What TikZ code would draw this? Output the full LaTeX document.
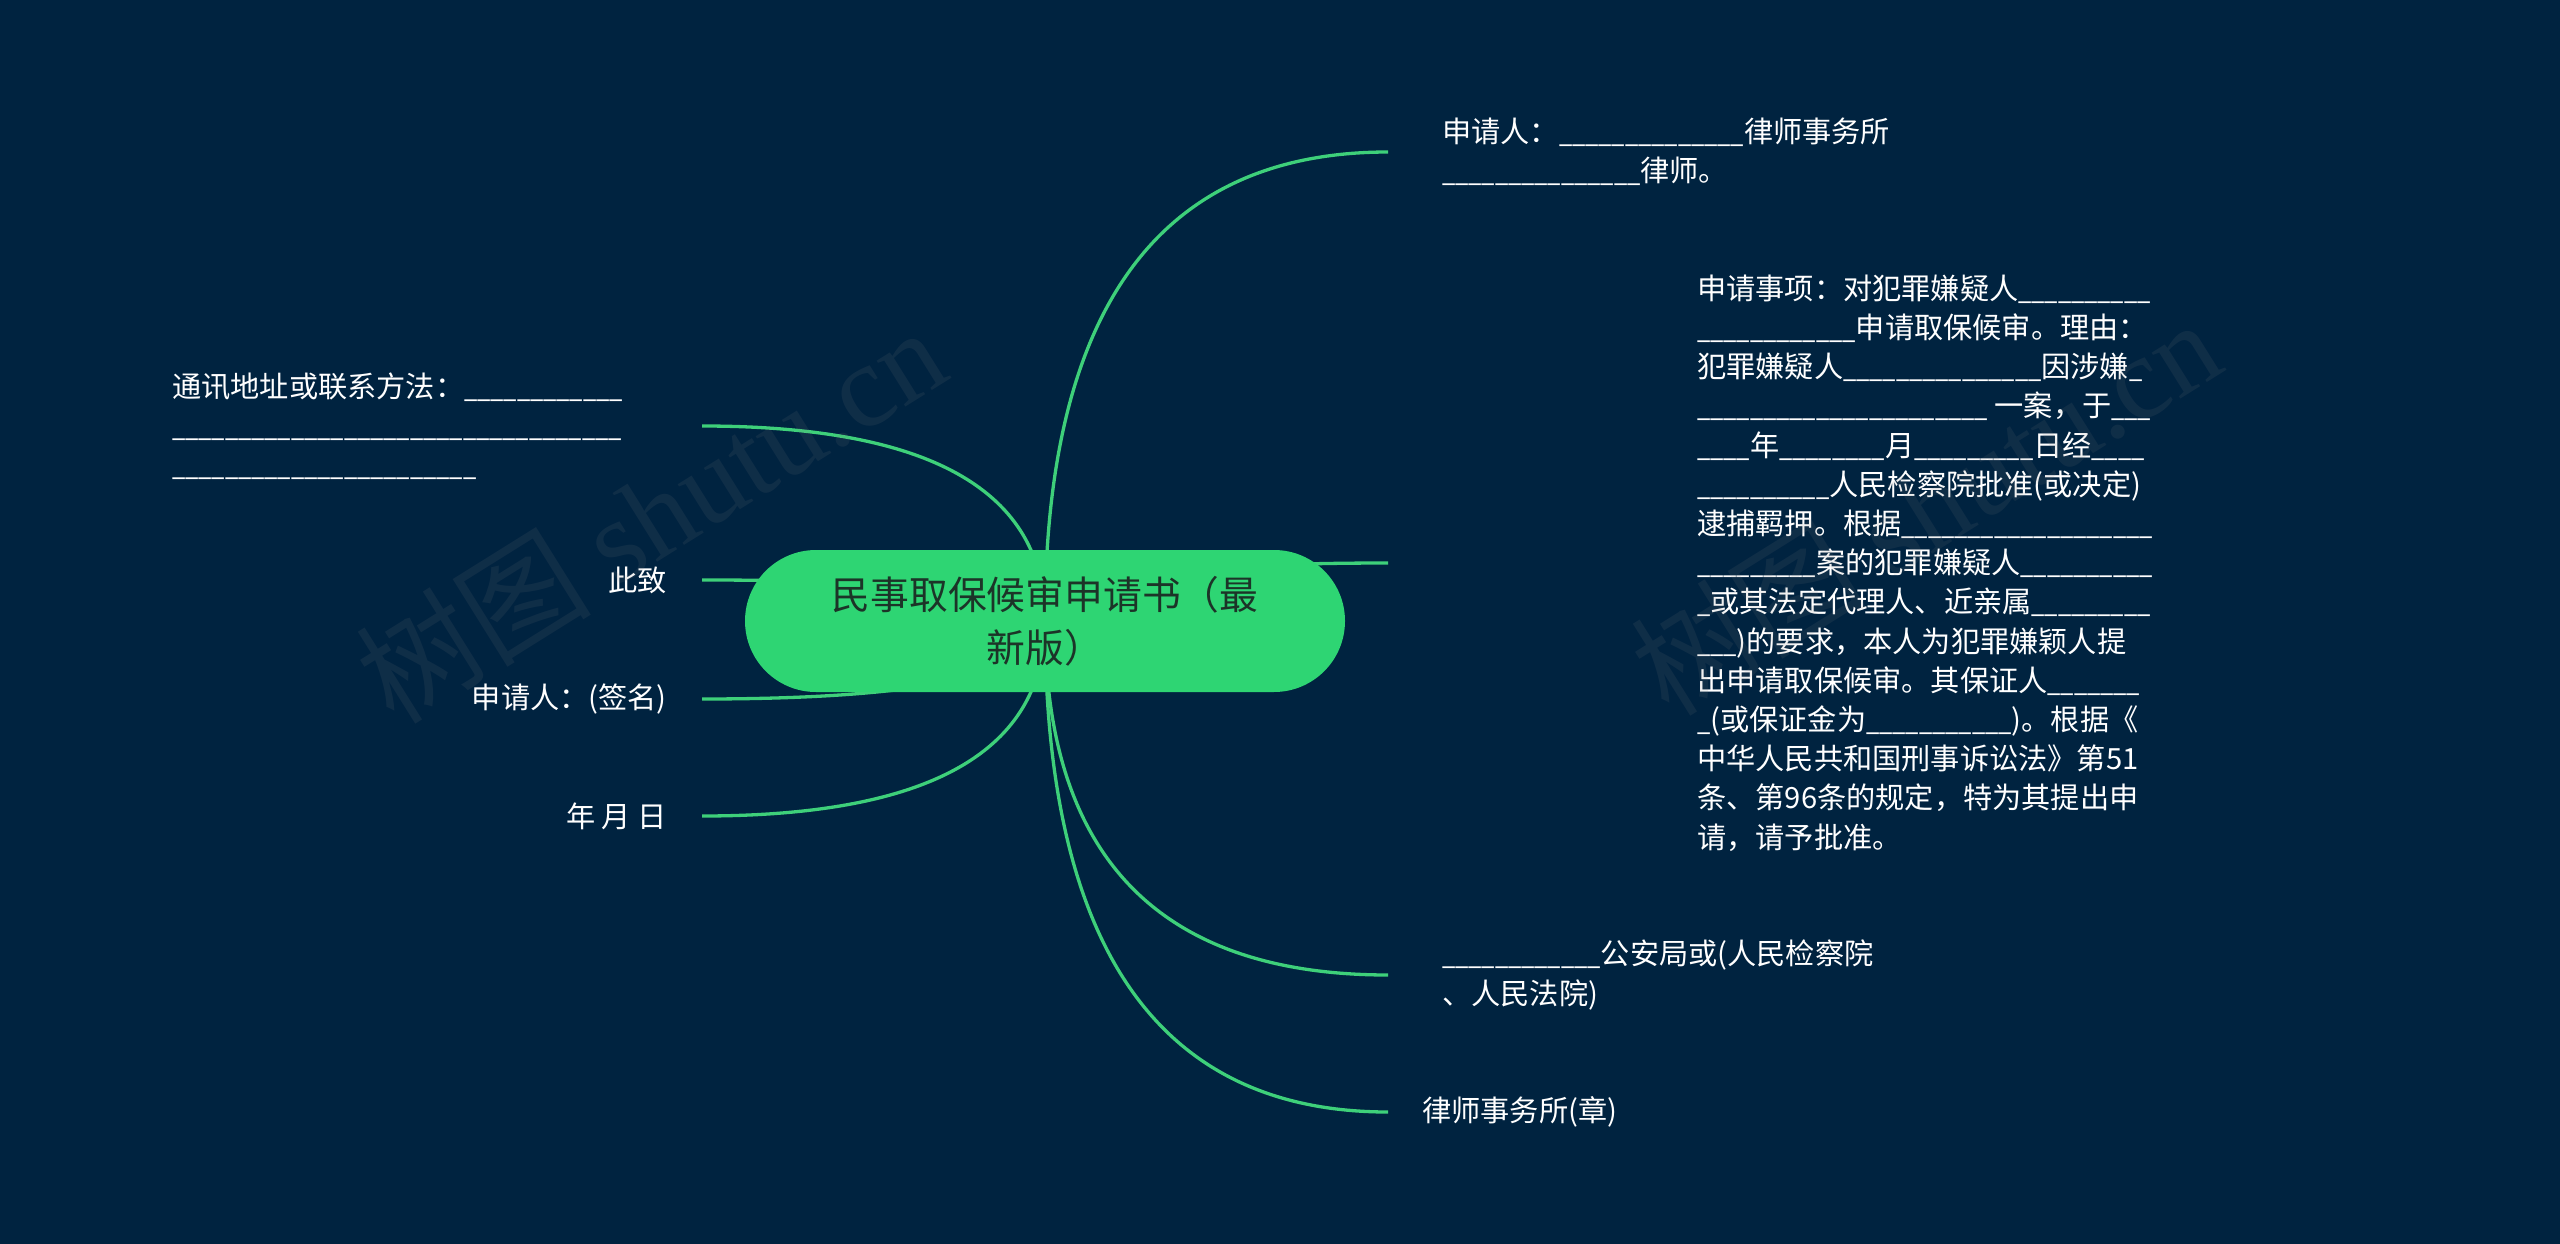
\documentclass[tikz,border=0pt]{standalone}
\usepackage{fontspec}
\usepackage{graphicx}
\setmainfont{Noto Sans CJK SC}
\newfontfamily\markserif{Liberation Serif}
\usetikzlibrary{calc,positioning,backgrounds}
\definecolor{mapbg}{RGB}{0,35,64}
\definecolor{rootgreen}{RGB}{46,213,115}
\definecolor{roottext}{RGB}{28,52,40}
\definecolor{linkgreen}{RGB}{62,208,122}
\newcount\blankcnt
\newcommand{\blanks}[1]{\scalebox{0.81}[1]{\blankcnt=0\relax\loop\ifnum\blankcnt<#1\relax\_\advance\blankcnt by 1\relax\repeat}}

\begin{document}
\begin{tikzpicture}[x=1pt, y=-1pt,
    leaf/.style={text=white, inner sep=0pt, align=left, font=\fontsize{29.2pt}{39.2pt}\selectfont},
    branch/.style={draw=linkgreen, line width=3.3pt, to path={.. controls ($(\tikztostart)!2/3!(\tikztostart |- \tikztotarget)$) and ($(\tikztotarget)!2/3!(\tikztostart |- \tikztotarget)$) .. (\tikztotarget)}},
    watermark/.style={text=gray, opacity=0.12, rotate=32, font=\fontsize{118pt}{118pt}\selectfont}]
    \useasboundingbox (0,0) rectangle (2560,1244);
    % Central topic
    \node[fill=rootgreen, text=roottext, minimum width=600pt, minimum height=142pt, rounded corners=71pt, align=center, font=\fontsize{38.8pt}{53pt}\selectfont] (root) at (1045,621) {民事取保候审申请书（最\\新版）};
    % Free ends of the links
    \coordinate (e1) at (1388,152);
    \coordinate (e2) at (1388,563);
    \coordinate (e3) at (1388,975);
    \coordinate (e4) at (1388,1112);
    \coordinate (e5) at (702,426);
    \coordinate (e6) at (702,580);
    \coordinate (e7) at (702,699);
    \coordinate (e8) at (702,816);
    % Right side
    \node[leaf, right=54pt of e1] (lawyer) {申请人：\blanks{14}律师事务所\\\blanks{15}律师。};
    \node[leaf, right=309pt of e2] (items) {申请事项：对犯罪嫌疑人\blanks{10}\\
        \blanks{12}申请取保候审。理由：\\
        犯罪嫌疑人\blanks{15}因涉嫌\blanks{1}\\
        \blanks{22} 一案，于\blanks{3}\\
        \blanks{4}年\blanks{8}月\blanks{9}日经\blanks{4}\\
        \blanks{10}人民检察院批准(或决定)\\
        逮捕羁押。根据\blanks{19}\\
        \blanks{9}案的犯罪嫌疑人\blanks{10}\\
        \blanks{1}或其法定代理人、近亲属\blanks{9}\\
        \blanks{3})的要求，本人为犯罪嫌颖人提\\
        出申请取保候审。其保证人\blanks{7}\\
        \blanks{1}(或保证金为\blanks{11})。根据《\\
        中华人民共和国刑事诉讼法》第51\\
        条、第96条的规定，特为其提出申\\
        请，请予批准。};
    \node[leaf, right=54pt of e3] (office) {\blanks{12}公安局或(人民检察院\\、人民法院)};
    \node[leaf, right=34pt of e4] (seal) {律师事务所(章)};
    % Left side
    \node[leaf, anchor=west] (addr) at (172,426) {通讯地址或联系方法：\blanks{12}\\\blanks{34}\\\blanks{23}};
    \node[leaf, left=35pt of e6] (salute) {此致};
    \node[leaf, left=35pt of e7] (sign) {申请人：(签名)};
    \node[leaf, left=35pt of e8] (date) {年 月 日};
    % Links, kept under the nodes
    \begin{scope}[on background layer]
        \fill[mapbg] (0,0) rectangle (2560,1244);
        \foreach \i in {1,...,8}
            \draw[branch] (root.center) to (e\i);
    \end{scope}
    % Watermarks
    \node[watermark] (markL) at (650,514) {树图 {\markserif shutu.cn}};
    \node[watermark] (markR) at (1925,506) {树图 {\markserif shutu.cn}};
\end{tikzpicture}
\end{document}
